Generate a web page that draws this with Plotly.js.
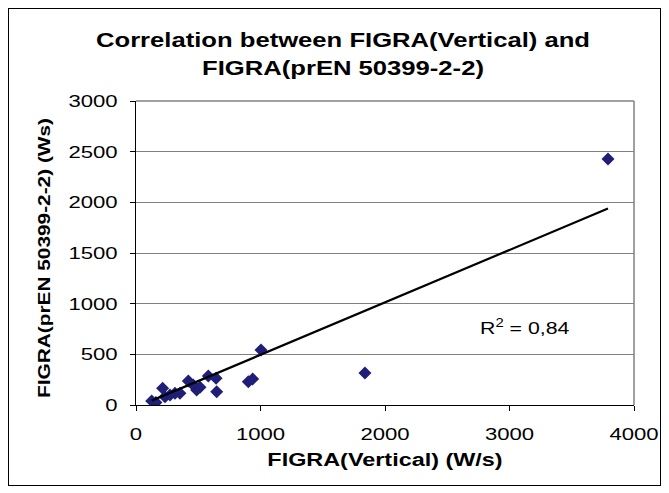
<!DOCTYPE html>
<html>
<head>
<meta charset="utf-8">
<script src="https://cdn.plot.ly/plotly-3.0.1.min.js"></script>
<style>
html,body{margin:0;padding:0;background:#fff;}
#frame{position:absolute;left:8px;top:8px;width:653px;height:478px;border:1px solid #000;box-sizing:border-box;}
#chart{position:absolute;left:0;top:0;width:669px;height:493px;}
</style>
</head>
<body>
<div id="frame"></div>
<div id="chart"></div>
<script>
// FIGRA(Vertical) (W/s)
const figraVertical = [126, 160, 214, 233, 273, 313, 353, 420, 460, 487, 514, 581, 643, 648, 902, 937, 1004, 1839, 3791];
// FIGRA(prEN 50399-2-2) (Ws)
const figraPrEN = [40, 25, 165, 82, 99, 115, 115, 237, 197, 148, 175, 286, 263, 131, 230, 257, 543, 316, 2428];
// linear trend line as shown in the chart
const trendSlope = 0.5174;
const trendIntercept = -22;
const xTicks = [0, 1000, 2000, 3000, 4000];
const yTicks = [0, 500, 1000, 1500, 2000, 2500, 3000];
const rSquaredLabel = "R<sup>2</sup> = 0,84";

const trendX = [Math.min(...figraVertical), Math.max(...figraVertical)];
const trendY = trendX.map(x => trendIntercept + trendSlope * x);

const font = "Liberation Sans, Arial, sans-serif";
const data = [
  {x: figraVertical, y: figraPrEN, type: 'scatter', mode: 'markers',
   marker: {symbol: 'diamond', size: 10, color: '#1f1f78'}, hoverinfo: 'skip'},
  {x: trendX, y: trendY, type: 'scatter', mode: 'lines',
   line: {color: '#000', width: 2.2}, hoverinfo: 'skip'}
];
const layout = {
  width: 669, height: 493,
  margin: {l: 136, r: 35, t: 101, b: 88},
  paper_bgcolor: 'rgba(0,0,0,0)', plot_bgcolor: '#fff',
  showlegend: false,
  font: {family: font, size: 17, color: '#000'},
  title: {text: "<b>Correlation between FIGRA(Vertical) and<br>FIGRA(prEN 50399-2-2)</b>",
          font: {family: font, size: 21, color: '#000'}, x: 0.5127, xanchor: 'center', y: 0.88, yanchor: 'middle'},
  xaxis: {range: [0, 4000], tickvals: xTicks, ticktext: xTicks.map(String),
          showgrid: false, zeroline: false, showline: true, linecolor: '#000', linewidth: 1,
          ticks: 'outside', ticklen: 5, tickcolor: '#000', ticklabelstandoff: 9,
          tickfont: {family: font, size: 17},
          title: {text: "<b>FIGRA(Vertical) (W/s)</b>", font: {family: font, size: 18}, standoff: 9}},
  yaxis: {range: [0, 3000], tickvals: yTicks, ticktext: yTicks.map(String),
          showgrid: true, gridcolor: '#808080', gridwidth: 1, zeroline: false,
          showline: true, linecolor: '#000', linewidth: 1,
          ticks: 'outside', ticklen: 5, tickcolor: '#000', ticklabelstandoff: 9,
          tickfont: {family: font, size: 17},
          title: {text: "<b>FIGRA(prEN 50399-2-2) (Ws)</b>", font: {family: font, size: 17}, standoff: 24}},
  shapes: [
    {type: 'line', xref: 'paper', yref: 'paper', x0: 1, x1: 1, y0: 0, y1: 1, line: {color: '#808080', width: 1.5}},
    {type: 'line', xref: 'paper', yref: 'paper', x0: 0, x1: 1, y0: 1, y1: 1, line: {color: '#808080', width: 1.5}}
  ],
  annotations: [{x: 2820, y: 770, xref: 'x', yref: 'y', text: rSquaredLabel, showarrow: false,
                 xanchor: 'left', yanchor: 'middle', font: {family: font, size: 17}}]
};

function stretch(el, factor) {
  const L = el.getComputedTextLength();
  if (L > 0) {
    el.setAttribute('textLength', (L * factor).toFixed(1));
    el.setAttribute('lengthAdjust', 'spacingAndGlyphs');
  }
}

Plotly.newPlot('chart', data, layout, {displayModeBar: false, staticPlot: true}).then(gd => {
  // wider glyphs, as in the reference rendering
  gd.querySelectorAll('.xtick text, .ytick text').forEach(t => stretch(t, 1.3));
  const xt = gd.querySelector('.g-xtitle text');
  if (xt) stretch(xt, 1.3);
  const yt = gd.querySelector('.g-ytitle text');
  if (yt) {
    stretch(yt, 1.225);
    yt.setAttribute('transform', 'translate(0,5) ' + (yt.getAttribute('transform') || ''));
  }
  const ann = gd.querySelector('.annotation-text');
  if (ann) stretch(ann, 1.25);
  // title: wider glyphs and reference line spacing
  const tt = gd.querySelector('.gtitle');
  if (tt) {
    const lines = tt.querySelectorAll('tspan.line');
    if (lines.length === 2) {
      const y1 = lines[0].getStartPositionOfChar(0).y;
      const y2 = lines[1].getStartPositionOfChar(0).y;
      const cur = lines[1].getAttribute('dy') || '0';
      const curPx = cur.endsWith('em') ? parseFloat(cur) * 21 : parseFloat(cur);
      lines[1].setAttribute('dy', (curPx + (28 - (y2 - y1))) + 'px');
      lines.forEach(l => stretch(l, 1.22));
      const yb = lines[0].getStartPositionOfChar(0).y;
      tt.setAttribute('transform', (tt.getAttribute('transform') || '') + ' translate(0,' + (47 - yb) + ')');
    }
  }
});
</script>
</body>
</html>
